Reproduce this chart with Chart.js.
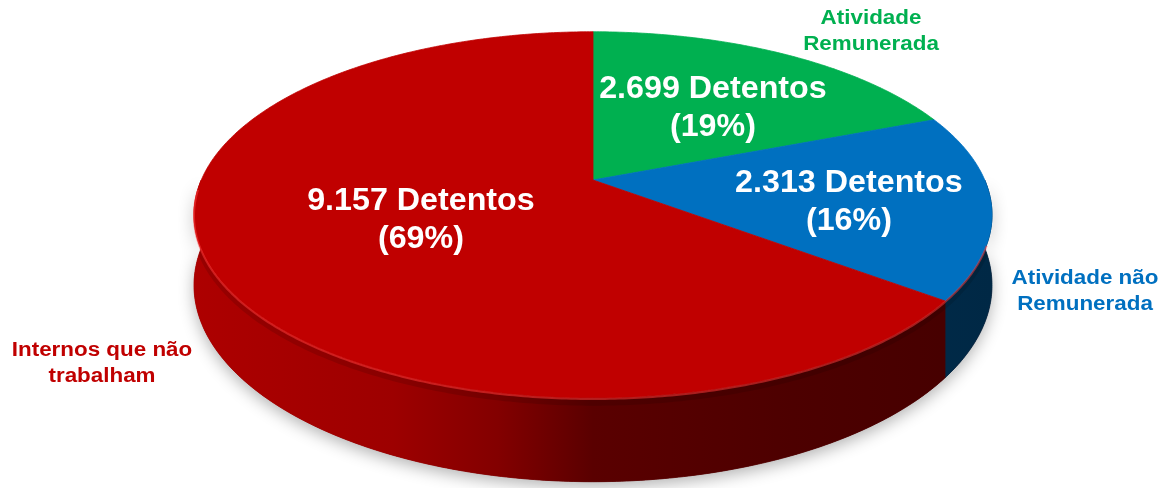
<!DOCTYPE html>
<html>
<head>
<meta charset="utf-8">
<script src="https://cdn.jsdelivr.net/npm/chart.js@4.4.1/dist/chart.umd.min.js"></script>
<style>
  html, body { margin: 0; padding: 0; background: #fff; }
  #grafico { display: block; }
</style>
</head>
<body>
<canvas id="grafico" width="1168" height="488"></canvas>
<script>
// dados
const categorias = ["Atividade\nRemunerada", "Atividade não\nRemunerada", "Internos que não\ntrabalham"];
const detentos = [2699, 2313, 9157];
const percentuais = ["19%", "16%", "69%"];
const cores = ["#00b050", "#0070c0", "#c00000"];

// vista 3D (perspectiva) e posicao dos textos
const VISTA = { cx: 593, cy: 180, rx: 399, ry: 183, k: 0.19, prof: 68 };
const raioRotulo = [0.553, 0.65, 0.474];
const desvioRotulo = [2.6, 3.3, -1.0]; // graus
const posCategoria = [{ x: 871, y: 18 }, { x: 1085, y: 278 }, { x: 102, y: 350 }];

const A = VISTA.rx * Math.sqrt(1 - VISTA.k * VISTA.k);
const B = VISTA.ry * (1 - VISTA.k * VISTA.k);

function projetar(theta, r, h) {
    const X = r * Math.sin(theta), Z = r * Math.cos(theta);
    const s = 1 / (1 + VISTA.k * Z);
    return { x: VISTA.cx + A * X * s, y: VISTA.cy - B * Z * s + h * s };
}

function sombra(hex, f) {
    const n = parseInt(hex.slice(1), 16);
    const r = Math.round(((n >> 16) & 255) * f), g = Math.round(((n >> 8) & 255) * f), b = Math.round((n & 255) * f);
    return `rgb(${r},${g},${b})`;
}

function formatar(n) {
    return String(n).replace(/\B(?=(\d{3})+(?!\d))/g, ".");
}

function curva(ctx, t1, t2, h, inicio) {
    const passos = Math.max(2, Math.ceil(Math.abs(t2 - t1) / 0.01));
    for (let i = 0; i <= passos; i++) {
        const p = projetar(t1 + (t2 - t1) * i / passos, 1, h);
        if (i === 0 && inicio) ctx.moveTo(p.x, p.y); else ctx.lineTo(p.x, p.y);
    }
}

function texto(ctx, s, x, y, esticar) {
    ctx.save();
    ctx.translate(x, y);
    ctx.scale(esticar, 1);
    ctx.fillText(s, 0, 0);
    ctx.restore();
}

const pizza3d = {
    id: "pizza3d",
    beforeDatasetsDraw(chart) {
        const ctx = chart.ctx;
        const arcos = chart.getDatasetMeta(0).data;
        const fatias = arcos.map((a, i) => ({ t1: a.startAngle + Math.PI / 2, t2: a.endAngle + Math.PI / 2, cor: cores[i] }));
        const frente1 = Math.PI / 2, frente2 = 3 * Math.PI / 2;

        const contornoLateral = () => {
            ctx.beginPath();
            curva(ctx, frente1, frente2, 0, true);
            curva(ctx, frente2, frente1, VISTA.prof, false);
            ctx.closePath();
        };

        // sombra do conjunto
        ctx.save();
        ctx.shadowColor = "rgba(0,0,0,0.3)";
        ctx.shadowBlur = 16;
        ctx.shadowOffsetY = 5;
        contornoLateral();
        ctx.fillStyle = "#600000";
        ctx.fill();
        ctx.restore();

        // lateral
        fatias.forEach(f => {
            const a = Math.max(f.t1, frente1), b = Math.min(f.t2, frente2);
            if (b <= a) return;
            const g = ctx.createLinearGradient(VISTA.cx - VISTA.rx, 0, VISTA.cx + VISTA.rx, 0);
            g.addColorStop(0, sombra(f.cor, 0.9));
            g.addColorStop(0.25, sombra(f.cor, 0.82));
            g.addColorStop(0.38, sombra(f.cor, 0.68));
            g.addColorStop(0.5, sombra(f.cor, 0.47));
            g.addColorStop(0.75, sombra(f.cor, 0.4));
            g.addColorStop(1, sombra(f.cor, 0.36));
            ctx.beginPath();
            curva(ctx, a, b, 0, true);
            curva(ctx, b, a, VISTA.prof, false);
            ctx.closePath();
            ctx.fillStyle = g;
            ctx.fill();
            ctx.strokeStyle = g;
            ctx.lineWidth = 0.8;
            ctx.stroke();
        });

        // faixa escura logo abaixo da borda (recortada na lateral)
        ctx.save();
        contornoLateral();
        ctx.clip();
        ctx.beginPath();
        curva(ctx, frente1, frente2, 4, true);
        ctx.strokeStyle = "rgba(0,0,0,0.12)";
        ctx.lineWidth = 6;
        ctx.stroke();
        ctx.restore();

        // topo
        fatias.forEach(f => {
            ctx.beginPath();
            ctx.moveTo(VISTA.cx, VISTA.cy);
            curva(ctx, f.t1, f.t2, 0, false);
            ctx.closePath();
            ctx.fillStyle = f.cor;
            ctx.fill();
            ctx.strokeStyle = f.cor;
            ctx.lineWidth = 0.8;
            ctx.stroke();
        });

        // brilho da borda frontal
        ctx.save();
        ctx.beginPath();
        curva(ctx, frente1 + 0.35, frente2 - 0.05, 1, true);
        ctx.strokeStyle = "rgba(255,60,60,0.5)";
        ctx.lineWidth = 2;
        ctx.stroke();
        ctx.restore();
        return false;
    },
    afterDraw(chart) {
        const ctx = chart.ctx;
        const arcos = chart.getDatasetMeta(0).data;
        ctx.save();
        ctx.textAlign = "center";
        ctx.textBaseline = "middle";

        // valores dentro das fatias
        ctx.font = "bold 31px 'Liberation Sans', Arial, sans-serif";
        ctx.fillStyle = "#ffffff";
        arcos.forEach((a, i) => {
            const meio = (a.startAngle + a.endAngle) / 2 + Math.PI / 2 + desvioRotulo[i] * Math.PI / 180;
            const p = projetar(meio, raioRotulo[i], 0);
            texto(ctx, `${formatar(detentos[i])} Detentos`, p.x, p.y - 19, 1.04);
            texto(ctx, `(${percentuais[i]})`, p.x, p.y + 19, 1.04);
        });

        // nomes das categorias
        ctx.font = "bold 20px 'Liberation Sans', Arial, sans-serif";
        categorias.forEach((c, i) => {
            ctx.fillStyle = cores[i];
            c.split("\n").forEach((linha, j) => {
                texto(ctx, linha, posCategoria[i].x, posCategoria[i].y + j * 26, 1.12);
            });
        });
        ctx.restore();
    }
};

new Chart(document.getElementById("grafico"), {
    type: "pie",
    data: {
        labels: categorias,
        datasets: [{
            data: detentos,
            backgroundColor: cores,
            borderWidth: 0
        }]
    },
    options: {
        responsive: false,
        animation: false,
        events: [],
        plugins: {
            legend: { display: false },
            tooltip: { enabled: false }
        }
    },
    plugins: [pizza3d]
});
</script>
</body>
</html>
